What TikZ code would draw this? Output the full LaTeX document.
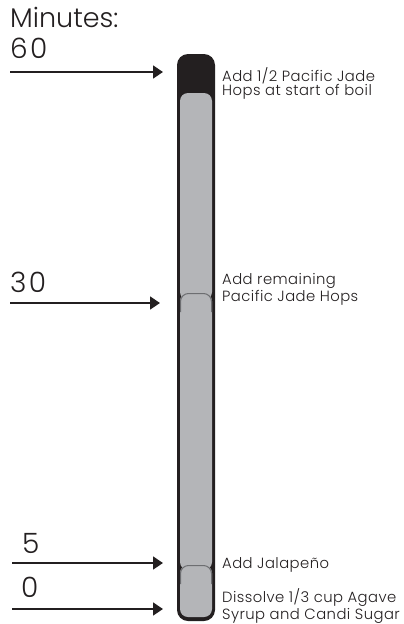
\documentclass[tikz,border=0pt]{standalone}
\usepackage{fontspec}
\setmainfont{Poppins Light}
\usetikzlibrary{arrows.meta}
\definecolor{tubedark}{HTML}{231F20}
\definecolor{tubegrey}{HTML}{B4B5B8}
\definecolor{divline}{HTML}{6D6E71}
\begin{document}
\begin{tikzpicture}[x=1pt,y=-1pt,
  bignum/.style={inner sep=0pt,anchor=base west,font=\fontsize{28}{30}\selectfont\addfontfeatures{LetterSpace=8},text=tubedark},
  note/.style={inner sep=0pt,anchor=base west,align=left,font=\fontsize{14.8}{14}\selectfont\addfontfeatures{LetterSpace=3},text=tubedark},
  timearrow/.style={line width=1.5pt,draw=tubedark,-{Triangle[length=10pt,width=13pt]}},
  seggrey/.style={fill=tubegrey,rounded corners=8pt},
  segtop/.style={draw=divline,line width=1pt,rounded corners=8pt}]
\useasboundingbox (0,0) rectangle (404,624);
% tube
\fill[tubedark,rounded corners=11pt] (177,54) rectangle (215,621) coordinate (tubebr);
\path[seggrey] (180,93) rectangle (212,300);
\path[seggrey] (180,293) rectangle (212,570);
\draw[segtop] (180.5,312) -- (180.5,293.5) -- (211.5,293.5) -- (211.5,312);
\path[seggrey] (180,565) rectangle (212,617);
\draw[segtop] (180.5,584) -- (180.5,565.5) -- (211.5,565.5) -- (211.5,584);
% left labels
\node[bignum,font=\fontsize{27}{29}\selectfont] (minutes) at (10,27) {Minutes:};
\node[bignum] (t60) at (10,58) {60};
\node[bignum] (t30) at (10,292) {30};
\node[bignum] (t5) at (22,553) {5};
\node[bignum] (t0) at (21,597) {0};
% arrows
\coordinate (a60s) at (10,72);  \coordinate (a60e) at (163,72);
\coordinate (a30s) at (10,303); \coordinate (a30e) at (160,303);
\coordinate (a5s) at (12,563);  \coordinate (a5e) at (163,563);
\coordinate (a0s) at (12,609);  \coordinate (a0e) at (163,609);
\draw[timearrow] (a60s) -- (a60e);
\draw[timearrow] (a30s) -- (a30e);
\draw[timearrow] (a5s) -- (a5e);
\draw[timearrow] (a0s) -- (a0e);
% notes (base = baseline of last line)
\node[note] (n60) at (222,95) {Add 1/2 Pacific Jade\\Hops at start of boil};
\node[note] (n30) at (222,301) {Add remaining\\Pacific Jade Hops};
\node[note] (n5) at (222,568) {Add Jalapeño};
\node[note] (n0) at (222,619) {Dissolve 1/3 cup Agave\\Syrup and Candi Sugar};
\end{tikzpicture}
\end{document}
